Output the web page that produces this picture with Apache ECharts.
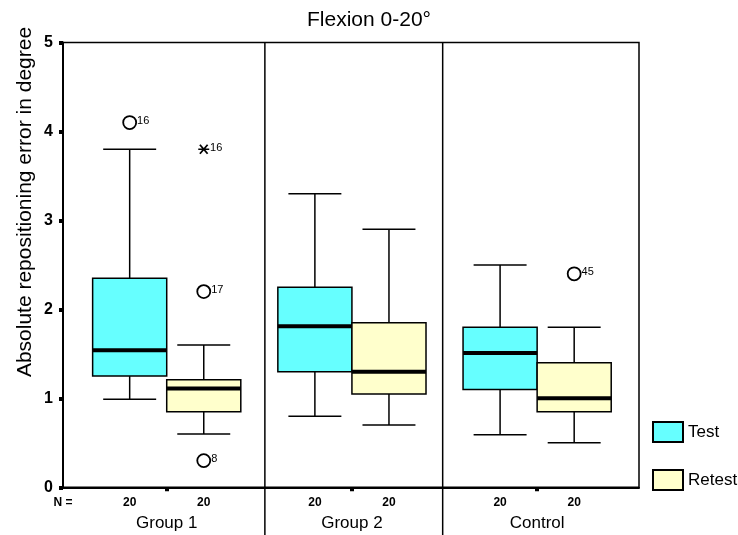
<!DOCTYPE html>
<html>
<head>
<meta charset="utf-8">
<title>Flexion 0-20°</title>
<script src="https://cdn.jsdelivr.net/npm/echarts@6/dist/echarts.min.js"></script>
<style>
  * { margin: 0; padding: 0; }
  #chart { width: 738px; height: 535px; background: #fff; }
</style>
</head>
<body>
<div id="chart"></div>
<script>
// groups on the x axis (centre of each pair of boxes at 1, 2, 3)
const groups = ['Group 1', 'Group 2', 'Control'];
const groupPos = [1, 2, 3];
const nTest = [20, 20, 20];
const nRetest = [20, 20, 20];

// [lower whisker, Q1, median, Q3, upper whisker]
const testStats = [
  [0.99, 1.25, 1.54, 2.35, 3.80],
  [0.80, 1.30, 1.81, 2.25, 3.30],
  [0.59, 1.10, 1.51, 1.80, 2.50]
];
const retestStats = [
  [0.60, 0.85, 1.11, 1.21, 1.60],
  [0.70, 1.05, 1.30, 1.85, 2.90],
  [0.50, 0.85, 1.00, 1.40, 1.80]
];

// [group index, box, value, case number]
const outliers = [
  [0, 'test', 4.1, '16'],
  [0, 'retest', 2.2, '17'],
  [0, 'retest', 0.3, '8'],
  [2, 'retest', 2.4, '45']
];
const extremes = [
  [0, 'retest', 3.8, '16']
];

// boundaries between groups, in x axis units
const groupDividers = [1.53, 2.49];

const BOX = 0.4;   // box width (x units)
const CAP = 0.286; // whisker cap width
const boxX = { test: -BOX / 2, retest: BOX / 2 };

function boxRenderer(side) {
  return function (params, api) {
    const g = api.value(0);
    const x0 = side === 'test' ? g - BOX : g;
    const left = api.coord([x0, 0])[0];
    const right = api.coord([x0 + BOX, 0])[0];
    const mid = (left + right) / 2;
    const capHalf = api.size([CAP, 0])[0] / 2;
    const y = [1, 2, 3, 4, 5].map(i => api.coord([g, api.value(i)])[1]);
    const ln = { stroke: '#000', lineWidth: 1.5 };
    return {
      type: 'group',
      children: [
        { type: 'line', shape: { x1: mid, y1: y[4], x2: mid, y2: y[3] }, style: ln },
        { type: 'line', shape: { x1: mid, y1: y[1], x2: mid, y2: y[0] }, style: ln },
        { type: 'line', shape: { x1: mid - capHalf, y1: y[4], x2: mid + capHalf, y2: y[4] }, style: ln },
        { type: 'line', shape: { x1: mid - capHalf, y1: y[0], x2: mid + capHalf, y2: y[0] }, style: ln },
        { type: 'rect', shape: { x: left, y: y[3], width: right - left, height: y[1] - y[3] },
          style: { fill: api.visual('color'), stroke: '#000', lineWidth: 1.5 } },
        { type: 'line', shape: { x1: left, y1: y[2], x2: right, y2: y[2] },
          style: { stroke: '#000', lineWidth: 4 } }
      ]
    };
  };
}

// N row labels
const nValues = [0.44];
const nLabels = ['N ='];
groupPos.forEach((p, i) => {
  nValues.push(p + boxX.test, p + boxX.retest);
  nLabels.push(String(nTest[i]), String(nRetest[i]));
});

const fontFamily = 'Liberation Sans, Arial, sans-serif';

let chart = echarts.init(document.getElementById('chart'));
let option = {
  animation: false,
  backgroundColor: '#fff',
  textStyle: { fontFamily: fontFamily },
  title: {
    text: 'Flexion 0-20°',
    left: 'center',
    top: 5,
    textStyle: { fontSize: 21, fontWeight: 'normal', color: '#000', fontFamily: fontFamily }
  },
  legend: {
    orient: 'vertical',
    left: 652,
    top: 421,
    padding: 0,
    itemWidth: 30,
    itemHeight: 20,
    itemGap: 26,
    selectedMode: false,
    textStyle: { fontSize: 17, color: '#000' },
    data: [
      { name: 'Test', icon: 'rect', itemStyle: { color: '#66ffff', borderColor: '#000', borderWidth: 2 } },
      { name: 'Retest', icon: 'rect', itemStyle: { color: '#ffffcc', borderColor: '#000', borderWidth: 2 } }
    ]
  },
  grid: {
    left: 63, right: 99, top: 42.5, bottom: 47.7,
    show: true, borderColor: '#000', borderWidth: 1.5
  },
  graphic: [{
    type: 'text',
    x: 25, y: 202,
    rotation: Math.PI / 2,
    style: {
      text: 'Absolute repositioning error in degree',
      fontSize: 21, fontFamily: fontFamily, fill: '#000',
      align: 'center', verticalAlign: 'middle'
    }
  }],
  xAxis: [{
    type: 'value', min: 0.44, max: 3.55, position: 'bottom',
    axisLine: { show: true, onZero: false, lineStyle: { color: '#000', width: 2 } },
    axisTick: { show: true, customValues: groupPos, length: 4, lineStyle: { color: '#000', width: 4 } },
    axisLabel: {
      customValues: groupPos,
      formatter: v => groups[groupPos.findIndex(p => Math.abs(p - v) < 1e-6)],
      margin: 28, fontSize: 17, color: '#000'
    },
    splitLine: { show: false }
  }, {
    type: 'value', min: 0.44, max: 3.55, position: 'bottom', offset: 0,
    axisLine: { show: false, onZero: false },
    axisTick: { show: false },
    axisLabel: {
      customValues: nValues,
      formatter: v => nLabels[nValues.findIndex(p => Math.abs(p - v) < 1e-6)],
      margin: 9, fontSize: 12, fontWeight: 'bold', color: '#000'
    },
    splitLine: { show: false }
  }],
  yAxis: {
    type: 'value', min: 0, max: 5, interval: 1,
    axisLine: { show: true, lineStyle: { color: '#000', width: 2 } },
    axisTick: { show: true, length: 4, lineStyle: { color: '#000', width: 4 } },
    axisLabel: { fontSize: 16, fontWeight: 'bold', color: '#000', margin: 10 },
    splitLine: { show: false }
  },
  series: [
    {
      name: 'dividers',
      type: 'custom',
      silent: true,
      data: groupDividers.map(d => [d, 5]),
      encode: { x: 0, y: 1 },
      renderItem: function (params, api) {
        const top = api.coord([api.value(0), api.value(1)]);
        return {
          type: 'line',
          shape: { x1: top[0], y1: top[1], x2: top[0], y2: api.getHeight() },
          style: { stroke: '#000', lineWidth: 1.5 }
        };
      }
    },
    {
      name: 'Test',
      type: 'custom',
      itemStyle: { color: '#66ffff' },
      data: testStats.map((s, i) => [groupPos[i]].concat(s)),
      encode: { x: 0, y: [1, 2, 3, 4, 5] },
      renderItem: boxRenderer('test')
    },
    {
      name: 'Retest',
      type: 'custom',
      itemStyle: { color: '#ffffcc' },
      data: retestStats.map((s, i) => [groupPos[i]].concat(s)),
      encode: { x: 0, y: [1, 2, 3, 4, 5] },
      renderItem: boxRenderer('retest')
    },
    {
      name: 'Outlier',
      type: 'scatter',
      symbol: 'circle',
      symbolSize: 13,
      itemStyle: { color: 'rgba(0,0,0,0)', borderColor: '#000', borderWidth: 1.8, opacity: 1 },
      label: {
        show: true, position: 'right', distance: 0, offset: [0, -2],
        fontSize: 11, color: '#000', formatter: p => p.data[2]
      },
      data: outliers.map(o => [groupPos[o[0]] + boxX[o[1]], o[2], o[3]]),
      encode: { x: 0, y: 1 }
    },
    {
      name: 'Extreme',
      type: 'scatter',
      symbol: 'path://M0,5L10,5M1.5,1.5L8.5,8.5M8.5,1.5L1.5,8.5',
      symbolSize: [11, 9],
      itemStyle: { color: 'rgba(0,0,0,0)', borderColor: '#000', borderWidth: 1.5, opacity: 1 },
      label: {
        show: true, position: 'right', distance: 0, offset: [0, -1],
        fontSize: 11, color: '#000', formatter: p => p.data[2]
      },
      data: extremes.map(o => [groupPos[o[0]] + boxX[o[1]], o[2], o[3]]),
      encode: { x: 0, y: 1 }
    }
  ]
};
chart.setOption(option);
</script>
</body>
</html>
